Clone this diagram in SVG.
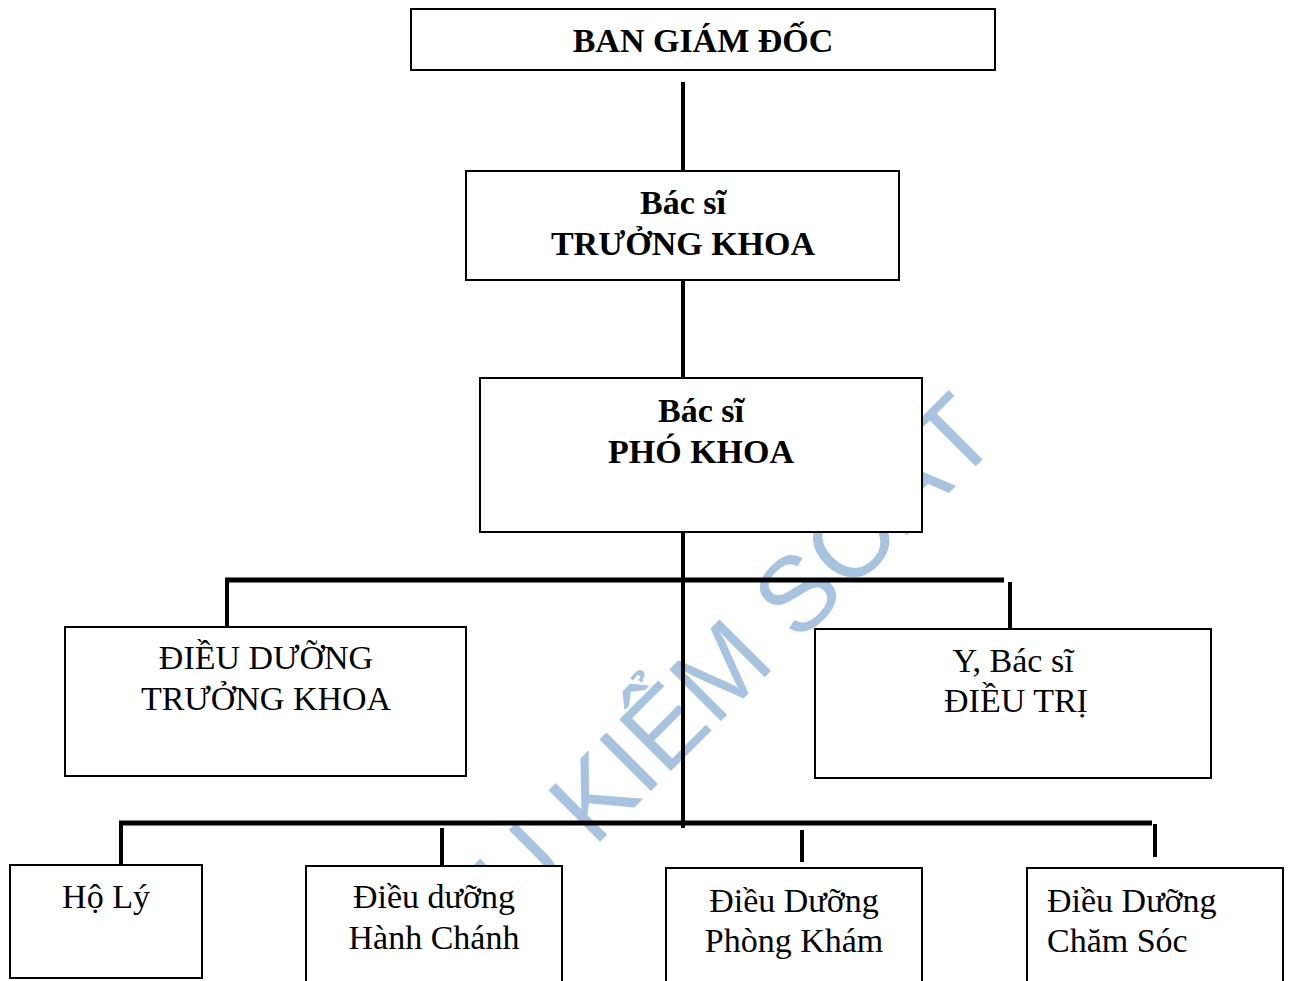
<svg xmlns="http://www.w3.org/2000/svg" width="1294" height="981" viewBox="0 0 1294 981">
<style>
.box{fill:#fff;stroke:#000;stroke-width:2}
.ln{stroke:#000;stroke-width:4;fill:none}
.hl{stroke:#000;stroke-width:5;fill:none}
.tb{font-family:"Liberation Serif","Times New Roman",serif;font-size:34px;font-weight:bold;fill:#000;text-anchor:middle}
.tn{font-family:"Liberation Serif","Times New Roman",serif;font-size:34px;fill:#000;text-anchor:middle}
.wm{font-family:"Liberation Sans",Arial,sans-serif;font-size:106px;fill:#a8c3e0}
</style>
<rect width="1294" height="981" fill="#fff"/>
<text class="wm" transform="translate(269,1173) rotate(-45)">TÀI LIỆU KIỂM SOÁT</text>
<g id="connectors">
<line class="ln" x1="683" y1="82" x2="683" y2="171"/>
<line class="ln" x1="683" y1="280" x2="683" y2="378"/>
<line class="ln" x1="683" y1="532" x2="683" y2="828"/>
<line class="hl" x1="225" y1="580" x2="1004" y2="580"/>
<line class="ln" x1="227" y1="580" x2="227" y2="627"/>
<line class="ln" x1="1010" y1="582" x2="1010" y2="628"/>
<line class="hl" x1="119" y1="823" x2="1152" y2="823"/>
<line class="ln" x1="121" y1="823" x2="121" y2="865"/>
<line class="ln" x1="442" y1="828" x2="442" y2="866"/>
<line class="ln" x1="802" y1="830" x2="802" y2="862"/>
<line class="ln" x1="1155" y1="824" x2="1155" y2="857"/>
</g>
<g id="ban-giam-doc">
<rect class="box" x="411" y="9" width="584" height="61"/>
<text class="tb" x="703" y="52">BAN GIÁM ĐỐC</text>
</g>
<g id="truong-khoa">
<rect class="box" x="466" y="171" width="433" height="109"/>
<text class="tb" x="683" y="214">Bác sĩ</text>
<text class="tb" x="683" y="255">TRƯỞNG KHOA</text>
</g>
<g id="pho-khoa">
<rect class="box" x="480" y="378" width="442" height="154"/>
<text class="tb" x="701" y="422">Bác sĩ</text>
<text class="tb" x="701" y="463">PHÓ KHOA</text>
</g>
<g id="dieu-duong-truong-khoa">
<rect class="box" x="65" y="627" width="401" height="149"/>
<text class="tn" x="266" y="669">ĐIỀU DƯỠNG</text>
<text class="tn" x="266" y="710">TRƯỞNG KHOA</text>
</g>
<g id="bac-si-dieu-tri">
<rect class="box" x="815" y="629" width="396" height="149"/>
<text class="tn" x="1013" y="672">Y, Bác sĩ</text>
<text class="tn" x="1016" y="712">ĐIỀU TRỊ</text>
</g>
<g id="ho-ly">
<rect class="box" x="10" y="865" width="192" height="113"/>
<text class="tn" x="106" y="908">Hộ Lý</text>
</g>
<g id="dd-hanh-chanh">
<rect class="box" x="306" y="866" width="256" height="118"/>
<text class="tn" x="434" y="908">Điều dưỡng</text>
<text class="tn" x="434" y="949">Hành Chánh</text>
</g>
<g id="dd-phong-kham">
<rect class="box" x="666" y="868" width="256" height="118"/>
<text class="tn" x="794" y="912">Điều Dưỡng</text>
<text class="tn" x="794" y="952">Phòng Khám</text>
</g>
<g id="dd-cham-soc">
<rect class="box" x="1027" y="868" width="256" height="118"/>
<text class="tn" x="1047" y="912" style="text-anchor:start">Điều Dưỡng</text>
<text class="tn" x="1047" y="952" style="text-anchor:start">Chăm Sóc</text>
</g>
</svg>
